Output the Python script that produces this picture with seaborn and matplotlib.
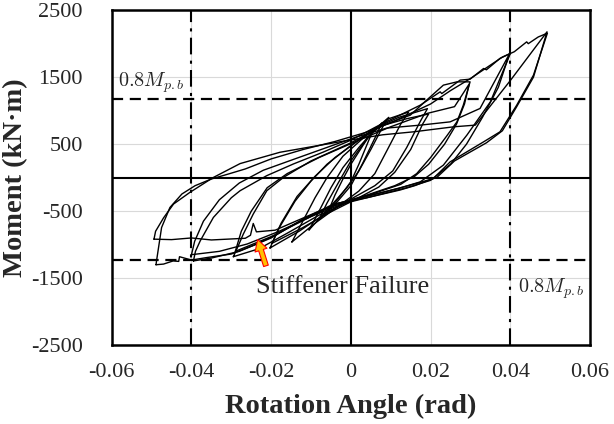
import numpy as np
import pandas as pd
import seaborn as sns
import matplotlib.pyplot as plt

# rotation (rad) / moment (kN.m) vertices, one list pair per loop
rot_c1 = [-0.0055, -0.0040, -0.0020, 0.0000, 0.0030, 0.0055, 0.0045, 0.0020, 0.0000, -0.0030, -0.0055]
mom_c1 = [-480, -260, -20, 200, 480, 700, 560, 200, -60, -300, -480]

rot_c2 = [-0.0080, -0.0060, -0.0030, 0.0000, 0.0040, 0.0078, 0.0065, 0.0030, 0.0000, -0.0040, -0.0080]
mom_c2 = [-620, -380, -60, 250, 580, 820, 650, 220, -120, -400, -620]

rot_c3 = [-0.0105, -0.0085, -0.0050, -0.0020, 0.0020, 0.0060, 0.0095, 0.0080, 0.0050, 0.0020,
          -0.0010, -0.0050, -0.0105]
mom_c3 = [-780, -560, -150, 150, 450, 720, 900, 760, 420, 100, -150, -420, -780]

rot_c4 = [-0.0148, -0.0125, -0.0090, -0.0060, -0.0020, 0.0040, 0.0095, 0.0145, 0.0125, 0.0090,
          0.0060, 0.0020, -0.0030, -0.0090, -0.0148]
mom_c4 = [-960, -700, -300, 0, 320, 640, 880, 980, 800, 400, 60, -200, -420, -680, -960]

rot_c5 = [-0.0203, -0.0180, -0.0140, -0.0100, -0.0060, 0.0000, 0.0060, 0.0120, 0.0192, 0.0175,
          0.0140, 0.0105, 0.0060, 0.0000, -0.0070, -0.0130, -0.0203]
mom_c5 = [-1050, -750, -350, -50, 200, 480, 740, 900, 1030, 850, 450, 100, -120, -320, -560, -800, -1050]

rot_c6 = [-0.0198, -0.0175, -0.0135, -0.0090, -0.0040, 0.0020, 0.0080, 0.0140, 0.0195, 0.0180,
          0.0150, 0.0110, 0.0070, 0.0010, -0.0060, -0.0125, -0.0198]
mom_c6 = [-980, -680, -280, 20, 300, 560, 780, 880, 950, 800, 420, 80, -140, -330, -540, -760, -980]

rot_c7 = [-0.0295, -0.0285, -0.0270, -0.0245, -0.0211, -0.0169, -0.0100, 0.0000, 0.0080, 0.0149,
          0.0190, 0.0232, 0.0266, 0.0299, 0.0282, 0.0266, 0.0241, 0.0200, 0.0165, 0.0125,
          0.0060, 0.0000, -0.0080, -0.0160, -0.0230, -0.0295]
mom_c7 = [-1180, -1050, -843, -543, -195, 5, 250, 520, 780, 933, 1157, 1381, 1430, 1430, 1082,
          833, 627, 300, 60, -100, -230, -350, -560, -830, -1060, -1180]

rot_c8 = [-0.0290, -0.0275, -0.0250, -0.0210, -0.0160, -0.0080, 0.0020, 0.0100, 0.0192, 0.0260,
          0.0297, 0.0285, 0.0265, 0.0235, 0.0195, 0.0160, 0.0110, 0.0040, -0.0040, -0.0120,
          -0.0200, -0.0290]
mom_c8 = [-1100, -800, -500, -150, 60, 300, 560, 760, 960, 1060, 1400, 1100, 800, 500, 200, 20,
          -120, -260, -400, -640, -880, -1100]

rot_c9 = [-0.0395, -0.0390, -0.0378, -0.0345, -0.0300, -0.0278, -0.0211, -0.0144, -0.0070, 0.0000,
          0.0070, 0.0123, 0.0174, 0.0224, 0.0228, 0.0274, 0.0299, 0.0333, 0.0340, 0.0374, 0.0400,
          0.0350, 0.0291, 0.0232, 0.0174, 0.0120, 0.0050, -0.0030, -0.0120, -0.0200, -0.0280,
          -0.0350, -0.0395]
mom_c9 = [-1243, -1100, -943, -594, -300, -195, 30, 205, 380, 560, 780, 933, 1082, 1281, 1255,
          1456, 1470, 1630, 1610, 1780, 1854, 1132, 635, 187, -63, -160, -260, -380, -620, -900,
          -1100, -1200, -1243]

rot_c10 = [-0.0400, -0.0392, -0.0370, -0.0330, -0.0280, -0.0220, -0.0150, -0.0070, 0.0010, 0.0090,
           0.0174, 0.0249, 0.0324, 0.0398, 0.0370, 0.0330, 0.0290, 0.0250, 0.0200, 0.0140, 0.0060,
           -0.0020, -0.0100, -0.0180, -0.0260, -0.0330, -0.0400]
mom_c10 = [-1150, -950, -650, -330, -80, 110, 260, 430, 600, 740, 784, 833, 1033, 1850, 1350, 900,
           500, 200, -40, -150, -270, -390, -580, -800, -990, -1100, -1150]

rot_c11 = [-0.0489, -0.0487, -0.0475, -0.0454, -0.0424, -0.0391, -0.0350, -0.0307, -0.0265, -0.0200,
           -0.0120, -0.0040, 0.0040, 0.0100, 0.0150, 0.0200, 0.0250, 0.0300, 0.0340, 0.0380, 0.0410,
           0.0441, 0.0445, 0.0470, 0.0493, 0.0458, 0.0416, 0.0374, 0.0333, 0.0249, 0.0207, 0.0160,
           0.0123, 0.0040, -0.0044, -0.0120, -0.0190, -0.0240, -0.0300, -0.0362, -0.0400, -0.0430,
           -0.0432, -0.0446, -0.0470, -0.0489]
mom_c11 = [-1300, -1217, -745, -445, -244, -120, -20, 55, 130, 280, 420, 540, 680, 820, 960, 1100,
           1300, 1480, 1640, 1800, 1880, 2027, 2000, 2100, 2157, 1530, 1082, 684, 535, 236, -12, -120,
           -185, -300, -394, -620, -860, -1000, -1140, -1193, -1230, -1180, -1250, -1243, -1290, -1300]

rot_c12 = [-0.0494, -0.0490, -0.0470, -0.0445, -0.0404, -0.0346, -0.0278, -0.0178, -0.0010, 0.0080,
           0.0157, 0.0258, 0.0312, 0.0400, 0.0492, 0.0458, 0.0416, 0.0380, 0.0340, 0.0260, 0.0215,
           0.0150, 0.0080, 0.0000, -0.0080, -0.0150, -0.0190, -0.0237, -0.0245, -0.0252, -0.0265,
           -0.0300, -0.0350, -0.0400, -0.0450, -0.0494]
mom_c12 = [-918, -800, -600, -394, -220, 0, 210, 379, 554, 640, 684, 759, 784, 1450, 2177, 1500,
           1060, 700, 520, 250, 0, -110, -220, -340, -500, -680, -784, -809, -684, -860, -905, -915,
           -930, -900, -925, -918]

loops = [(rot_c1, mom_c1), (rot_c2, mom_c2), (rot_c3, mom_c3), (rot_c4, mom_c4),
         (rot_c5, mom_c5), (rot_c6, mom_c6), (rot_c7, mom_c7), (rot_c8, mom_c8),
         (rot_c9, mom_c9), (rot_c10, mom_c10), (rot_c11, mom_c11), (rot_c12, mom_c12)]

mp_pos = 1170     # 0.8 Mp,b lines
mp_neg = -1235
rot_limit = 0.04

x_ticks = [-0.06, -0.04, -0.02, 0, 0.02, 0.04, 0.06]
x_ticklabels = ['-0.06', '-0.04', '-0.02', '0', '0.02', '0.04', '0.06']
y_ticks = [-2500, -1500, -500, 500, 1500, 2500]
y_ticklabels = ['-2500', '-1500', '-500', '500', '1500', '2500']

rows = []
for k, (r, m) in enumerate(loops):
    for i in range(len(r)):
        rows.append((k, i, r[i], m[i]))
df = pd.DataFrame(rows, columns=['loop', 'step', 'rot', 'mom'])

sns.set_style('white')
plt.rcParams['font.family'] = ['Liberation Serif', 'DejaVu Serif']
plt.rcParams['mathtext.fontset'] = 'cm'
plt.rcParams['axes.unicode_minus'] = False

fig = plt.figure(figsize=(6.14, 4.24), dpi=100)
ax = fig.add_axes([0.182, 0.186, 0.779, 0.790])

ax.grid(True, color='#d9d9d9', lw=0.8)
ax.set_axisbelow(True)

ax.axhline(0, color='k', lw=1.5)
ax.axvline(0, color='k', lw=1.5)
ax.axhline(mp_pos, color='k', lw=1.6, ls=(0, (5, 3)))
ax.axhline(mp_neg, color='k', lw=1.6, ls=(0, (5, 3)))
ax.axvline(rot_limit, color='k', lw=1.5, ls=(0, (8, 3, 1.5, 3)))
ax.axvline(-rot_limit, color='k', lw=1.5, ls=(0, (8, 3, 1.5, 3)))

sns.lineplot(data=df, x='rot', y='mom', units='loop', estimator=None, sort=False,
             color='k', lw=1.0, ax=ax, legend=False)

ax.set_xlim(-0.06, 0.06)
ax.set_ylim(-2500, 2500)
ax.set_xticks(x_ticks)
ax.set_xticklabels(x_ticklabels)
ax.set_yticks(y_ticks)
ax.set_yticklabels(y_ticklabels)
ax.tick_params(axis='both', length=0, labelsize=16)
ax.tick_params(axis='y', pad=21)
ax.tick_params(axis='x', pad=13)
for s in ax.spines.values():
    s.set_color('k')
    s.set_linewidth(1.8)

ax.set_xlabel('Rotation Angle (rad)', fontsize=20.5, fontweight='bold')
ax.set_ylabel('Moment (kN·m)', fontsize=20.5, fontweight='bold')
ax.xaxis.set_label_coords(0.5, -0.145)
ax.yaxis.set_label_coords(-0.175, 0.5)

ax.text(-0.0584, 1411, r'$0.8M_{p.b}$', fontsize=14.5, ha='left', va='center')
ax.text(0.042, -1654, r'$0.8M_{p.b}$', fontsize=14.5, ha='left', va='center')
ax.text(-0.0021, -1630, 'Stiffener Failure', fontsize=19, ha='center', va='center')
ax.annotate('', xy=(-0.0236, -884), xytext=(-0.0211, -1356),
            arrowprops=dict(arrowstyle='simple,head_width=0.9,head_length=0.8,tail_width=0.35',
                            fc='#FFC000', ec='red', lw=0.8))

fig.savefig('out.png', dpi=100)
